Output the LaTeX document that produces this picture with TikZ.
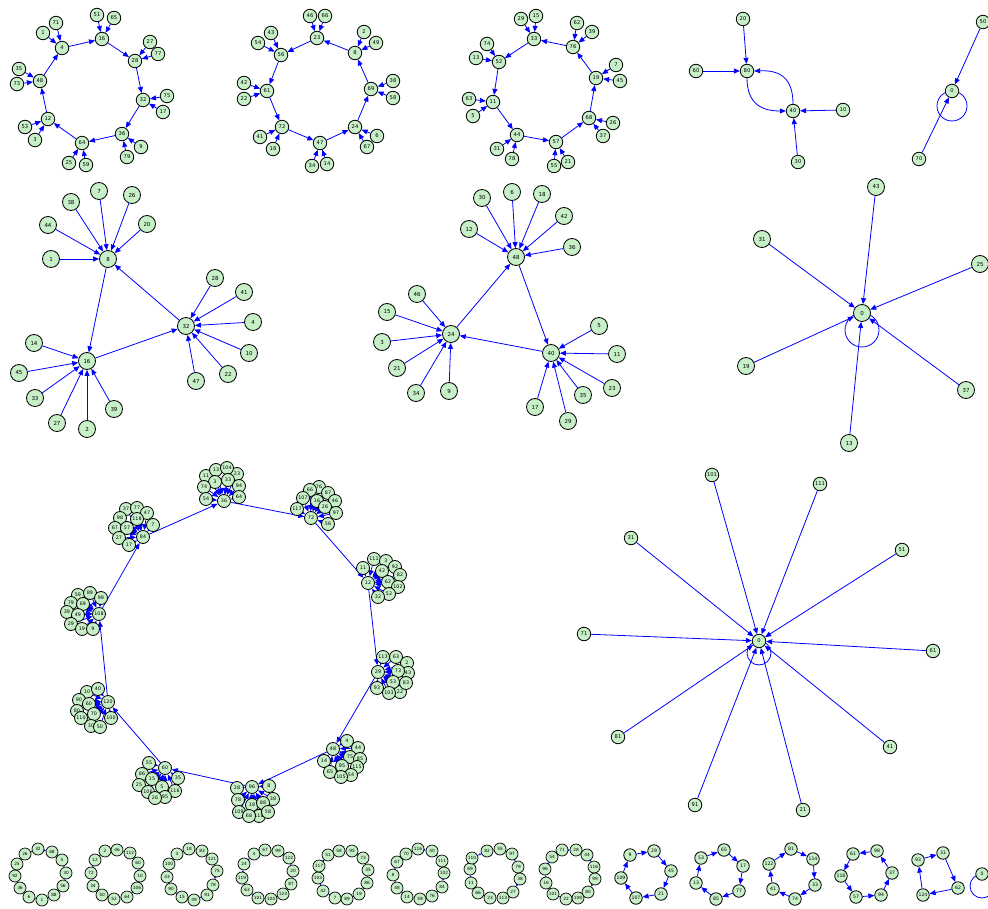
\documentclass[tikz,border=0pt]{standalone}
\usepackage{fontspec}
\setmainfont{DejaVu Sans}
\usepackage{tikz}
\usetikzlibrary{arrows.meta,positioning,backgrounds,calc}
\definecolor{nodegreen}{RGB}{200,240,200}

\begin{document}
\begin{tikzpicture}[
    x=1pt, y=-1pt,
    >={Stealth[length=6pt,width=5pt,inset=0pt]},
    vtx/.style={circle, draw, line width=0.8pt, fill=nodegreen, minimum size=13.5pt, inner sep=0pt, font=\fontsize{5.2}{6}\selectfont},
    bigvtx/.style={vtx, minimum size=17pt, font=\fontsize{5.5}{6}\selectfont},
    clvtx/.style={vtx, minimum size=13pt, font=\fontsize{4.8}{5}\selectfont},
    ringvtx/.style={vtx, minimum size=12.5pt, font=\fontsize{4.6}{5}\selectfont},
    tinyvtx/.style={vtx, minimum size=12pt, line width=0.7pt, font=\fontsize{4.3}{5}\selectfont},
    link/.style={->, blue, line width=0.8pt},
    tinylink/.style={-{Stealth[length=2pt,width=2pt,inset=0pt]}, blue, line width=0.6pt},
    loopline/.style={blue, line width=0.8pt}
]
    \useasboundingbox (0,0) rectangle (988,909);

    % first ring of eight with two feeders each
    \foreach \n/\x/\y in {4/62/48, 16/102/39, 28/135/61, 32/143/100, 36/122/134, 64/82/143, 12/48/119, 48/40/81}
        \node[vtx] (c1_\n) at (\x,\y) {\n};
    \foreach \a/\b in {4/16, 16/28, 28/32, 32/36, 36/64, 64/12, 12/48, 48/4}
        \draw[link] (c1_\a) -- (c1_\b);
    \foreach \h/\n/\x/\y in {4/1/43/33, 4/71/56/23, 16/51/97/15, 16/65/114/18, 28/27/150/42, 28/77/158/54,
            32/75/167/96, 32/17/163/112, 36/9/141/147, 36/79/127/157, 64/25/69/163, 64/59/86/165,
            12/53/25/127, 12/3/35/140, 48/35/19/69, 48/73/17/84} {
        \node[vtx] (c1_\n) at (\x,\y) {\n};
        \draw[link] (c1_\n) -- (c1_\h);
    }

    % second ring
    \foreach \n/\x/\y in {23/317/38, 8/355/53, 69/371/89, 24/355/127, 47/320/143, 72/282/127, 61/267/91, 56/281/55}
        \node[vtx] (c2_\n) at (\x,\y) {\n};
    \foreach \a/\b in {8/23, 23/56, 56/61, 61/72, 72/47, 47/24, 24/69, 69/8}
        \draw[link] (c2_\a) -- (c2_\b);
    \foreach \h/\n/\x/\y in {23/46/310/16, 23/66/325/16, 8/2/364/32, 8/49/376/43, 69/38/393/81, 69/58/393/98,
            24/6/377/136, 24/67/367/147, 47/14/327/164, 47/34/312/166, 72/41/260/137, 72/18/273/149,
            61/42/244/83, 61/22/244/99, 56/54/258/43, 56/43/271/33} {
        \node[vtx] (c2_\n) at (\x,\y) {\n};
        \draw[link] (c2_\n) -- (c2_\h);
    }

    % third ring
    \foreach \n/\x/\y in {33/534/39, 76/573/47, 19/596/78, 68/589/118, 57/556/142, 44/517/135, 11/493/102, 52/499/62}
        \node[vtx] (c3_\n) at (\x,\y) {\n};
    \foreach \a/\b in {76/33, 33/52, 52/11, 11/44, 44/57, 57/68, 68/19, 19/76}
        \draw[link] (c3_\a) -- (c3_\b);
    \foreach \h/\n/\x/\y in {33/29/521/19, 33/15/536/16, 76/62/577/23, 76/39/592/32, 19/7/616/65, 19/45/620/81,
            68/26/613/123, 68/37/603/136, 57/21/568/162, 57/55/554/166, 44/31/497/149, 44/78/512/159,
            11/63/469/99, 11/5/473/116, 52/13/476/58, 52/74/487/44} {
        \node[vtx] (c3_\n) at (\x,\y) {\n};
        \draw[link] (c3_\n) -- (c3_\h);
    }

    % pair 80 / 40
    \node[vtx] (p_80) at (747,71) {80};
    \node[vtx] (p_40) at (793,111) {40};
    \foreach \n/\x/\y in {20/743/19, 60/696/71}{
        \node[vtx] (p_\n) at (\x,\y) {\n};
        \draw[link] (p_\n) -- (p_80);
    }
    \foreach \n/\x/\y in {10/843/110, 30/798/162}{
        \node[vtx] (p_\n) at (\x,\y) {\n};
        \draw[link] (p_\n) -- (p_40);
    }
    \draw[link] (p_80.south) .. controls (747,104) and (762,111) .. (p_40.west);
    \draw[link] (p_40.north) .. controls (793,78) and (780,70) .. (p_80.east);

    % small loop top right
    \node[vtx] (t_0) at (952,91) {0};
    \node[vtx] (t_50) at (983,22) {50};
    \node[vtx] (t_70) at (919,159) {70};
    \draw[link] (t_50) -- (t_0);
    \draw[link] (t_70) -- (t_0);
    \begin{scope}[on background layer]
        \draw[loopline] (t_0.center) ++(0,15) circle[radius=15];
    \end{scope}

    % star triangle one
    \node[bigvtx] (s1_8) at (108,259) {8};
    \node[bigvtx] (s1_16) at (87,361) {16};
    \node[bigvtx] (s1_32) at (186,326) {32};
    \draw[link] (s1_8) -- (s1_16);
    \draw[link] (s1_16) -- (s1_32);
    \draw[link] (s1_32) -- (s1_8);
    \foreach \h/\n/\x/\y in {8/1/51/259, 8/44/48/225, 8/38/71/202, 8/7/99/191, 8/26/132/195, 8/20/147/224,
            16/14/34/343, 16/45/19/373, 16/33/35/398, 16/27/57/423, 16/2/87/429, 16/39/114/409,
            32/28/215/278, 32/41/244/292, 32/4/253/322, 32/10/249/353, 32/22/228/374, 32/47/196/381} {
        \node[bigvtx] (s1_\n) at (\x,\y) {\n};
        \draw[link] (s1_\n) -- (s1_\h);
    }

    % star triangle two
    \node[bigvtx] (s2_48) at (516,257) {48};
    \node[bigvtx] (s2_24) at (451,334) {24};
    \node[bigvtx] (s2_40) at (551,353) {40};
    \draw[link] (s2_48) -- (s2_40);
    \draw[link] (s2_40) -- (s2_24);
    \draw[link] (s2_24) -- (s2_48);
    \foreach \h/\n/\x/\y in {48/30/482/198, 48/6/512/192, 48/18/542/194, 48/42/564/216, 48/36/572/247, 48/12/469/229,
            24/46/417/294, 24/15/387/312, 24/3/382/342, 24/21/397/368, 24/34/416/393, 24/9/449/391,
            40/5/599/326, 40/11/617/354, 40/23/612/388, 40/35/583/395, 40/29/568/421, 40/17/535/407} {
        \node[bigvtx] (s2_\n) at (\x,\y) {\n};
        \draw[link] (s2_\n) -- (s2_\h);
    }

    % star with loop
    \node[bigvtx] (s3_0) at (862,313) {0};
    \foreach \n/\x/\y in {43/876/187, 31/762/239, 25/980/264, 19/746/366, 37/966/390, 13/849/443} {
        \node[bigvtx] (s3_\n) at (\x,\y) {\n};
        \draw[link] (s3_\n) -- (s3_0);
    }
    \begin{scope}[on background layer]
        \draw[loopline] (s3_0.center) ++(0,17) circle[radius=17];
    \end{scope}

    % big star
    \node[vtx] (s4_0) at (759,641) {0};
    \foreach \n/\x/\y in {101/712/475, 111/820/484, 31/631/538, 51/902/550, 71/584/634,
            61/933/651, 81/618/737, 41/890/747, 91/695/805, 21/803/810} {
        \node[vtx] (s4_\n) at (\x,\y) {\n};
        \draw[link] (s4_\n) -- (s4_0);
    }
    \begin{scope}[on background layer]
        \draw[loopline] (s4_0.center) ++(0,12) circle[radius=12];
    \end{scope}

    % ring of clusters
    \foreach \n/\x/\y in {11/206/476, 13/216/470, 23/237/474, 104/227/468, 3/215/482, 33/228/480,
            74/204/487, 94/239/486, 54/206/499, 36/224/501, 64/239/497}
        \node[clvtx] (qa_\n) at (\x,\y) {\n};
    \foreach \n/\x/\y in {76/319/487, 66/310/490, 87/328/493, 16/317/501, 107/303/498, 46/335/501,
            26/325/507, 117/297/509, 97/336/513, 72/311/518, 56/328/524}
        \node[clvtx] (qb_\n) at (\x,\y) {\n};
    \foreach \n/\x/\y in {111/374/559, 3/386/561, 92/395/567, 42/382/571, 82/400/575, 11/363/568,
            62/388/582, 102/398/587, 12/368/583, 52/389/594, 32/378/597}
        \node[clvtx] (qc_\n) at (\x,\y) {\n};
    \foreach \n/\x/\y in {113/383/657, 63/396/657, 2/407/663, 43/408/673, 73/398/671, 29/378/672,
            22/400/692, 53/393/682, 83/406/683, 93/377/688, 103/389/693}
        \node[clvtx] (qd_\n) at (\x,\y) {\n};
    \foreach \n/\x/\y in {4/347/741, 44/358/748, 48/333/749, 75/350/757, 85/360/759, 115/357/767,
            14/324/761, 95/342/766, 54/351/775, 65/330/772, 105/341/777}
        \node[clvtx] (qe_\n) at (\x,\y) {\n};
    \foreach \n/\x/\y in {28/237/788, 96/252/787, 8/269/786, 78/238/800, 38/273/799, 18/252/805,
            88/263/803, 109/239/812, 118/259/816, 68/249/816, 58/268/812}
        \node[clvtx] (qf_\n) at (\x,\y) {\n};
    \foreach \n/\x/\y in {55/149/763, 60/165/768, 86/142/774, 15/152/779, 35/178/778, 25/139/785,
            5/162/787, 116/175/791, 106/148/792, 95/165/797, 26/155/798}
        \node[clvtx] (qg_\n) at (\x,\y) {\n};
    \foreach \n/\x/\y in {10/87/692, 40/98/689, 90/79/700, 60/89/704, 120/108/702, 80/77/711,
            70/94/714, 110/81/718, 100/111/718, 30/91/726, 50/100/727}
        \node[clvtx] (qh_\n) at (\x,\y) {\n};
    \foreach \n/\x/\y in {59/78/595, 89/90/593, 79/71/603, 69/83/604, 99/101/598, 39/67/612,
            49/78/615, 108/99/614, 29/71/624, 19/82/629, 9/93/629}
        \node[clvtx] (qi_\n) at (\x,\y) {\n};
    \foreach \n/\x/\y in {37/126/509, 77/137/508, 47/147/513, 98/120/518, 118/137/519, 67/115/528,
            57/127/528, 7/153/525, 27/119/538, 84/143/537, 17/129/545}
        \node[clvtx] (qj_\n) at (\x,\y) {\n};

    \begin{scope}[on background layer]
        \foreach \n in {11,13,23,104,3,33,74,94,54,64} \draw[link] (qa_\n) -- (qa_36);
        \foreach \n in {76,66,87,16,107,46,26,117,97,56} \draw[link] (qb_\n) -- (qb_72);
        \foreach \n in {111,3,92,42,82,11,62,102,52,32} \draw[link] (qc_\n) -- (qc_12);
        \foreach \n in {113,63,2,43,73,22,53,83,93,103} \draw[link] (qd_\n) -- (qd_29);
        \foreach \n in {4,44,75,85,115,14,95,54,65,105} \draw[link] (qe_\n) -- (qe_48);
        \foreach \n in {28,8,78,38,18,88,109,118,68,58} \draw[link] (qf_\n) -- (qf_96);
        \foreach \n in {55,86,15,35,25,5,116,106,95,26} \draw[link] (qg_\n) -- (qg_60);
        \foreach \n in {10,40,90,60,80,70,110,100,30,50} \draw[link] (qh_\n) -- (qh_120);
        \foreach \n in {59,89,79,69,99,39,49,29,19,9} \draw[link] (qi_\n) -- (qi_108);
        \foreach \n in {37,77,47,98,118,67,57,7,27,17} \draw[link] (qj_\n) -- (qj_84);
        \draw[link] (qa_36) -- (qb_72);
        \draw[link] (qb_72) -- (qc_12);
        \draw[link] (qc_12) -- (qd_29);
        \draw[link] (qd_29) -- (qe_48);
        \draw[link] (qe_48) -- (qf_96);
        \draw[link] (qf_96) -- (qg_60);
        \draw[link] (qg_60) -- (qh_120);
        \draw[link] (qh_120) -- (qi_108);
        \draw[link] (qi_108) -- (qj_84);
        \draw[link] (qj_84) -- (qa_36);
    \end{scope}

    % bottom row, rings of twelve
    \foreach \n/\x/\y [count=\i] in {32/38/849, 68/52/852, 5/62/860, 30/66/873, 56/63/886, 88/54/895,
            1/42/900, 6/29/897, 36/20/888, 92/15/876, 25/17/864, 26/25/854}
        \node[tinyvtx] (r1_\i) at (\x,\y) {\n};
    \foreach \n/\x/\y [count=\i] in {2/105/851, 46/117/850, 112/130/853, 60/138/863, 10/140/876, 106/137/888,
            64/127/897, 52/114/899, 50/102/895, 34/93/886, 72/91/873, 12/95/860}
        \node[tinyvtx] (r2_\i) at (\x,\y) {\n};
    \foreach \n/\x/\y [count=\i] in {3/177/854, 18/189/849, 83/202/851, 121/212/859, 75/217/871, 78/213/885,
            91/207/895, 49/194/900, 15/182/897, 90/171/889, 43/167/877, 100/169/864}
        \node[tinyvtx] (r3_\i) at (\x,\y) {\n};
    \foreach \n/\x/\y [count=\i] in {4/254/854, 67/265/850, 99/278/851, 122/289/858, 20/293/871, 87/291/884,
            123/283/894, 104/271/899, 101/258/898, 63/247/890, 119/242/878, 24/244/864}
        \node[tinyvtx] (r4_\i) at (\x,\y) {\n};
    \foreach \n/\x/\y [count=\i] in {51/328/855, 58/339/851, 95/352/851, 73/363/858, 35/368/870, 86/367/883,
            19/359/894, 89/347/899, 7/335/898, 42/323/891, 103/318/878, 117/319/866}
        \node[tinyvtx] (r5_\i) at (\x,\y) {\n};
    \foreach \n/\x/\y [count=\i] in {70/406/854, 116/418/849, 40/432/851, 111/442/861, 102/444/873, 84/442/887,
            76/432/896, 59/420/899, 14/407/897, 48/397/888, 8/393/875, 67/397/862}
        \node[tinyvtx] (r6_\i) at (\x,\y) {\n};
    \foreach \n/\x/\y [count=\i] in {82/487/851, 55/500/849, 97/512/854, 79/518/867, 38/520/879, 27/513/892,
            113/503/898, 23/490/898, 66/478/893, 11/471/883, 69/470/869, 110/472/858}
        \node[tinyvtx] (r7_\i) at (\x,\y) {\n};
    \foreach \n/\x/\y [count=\i] in {71/562/850, 28/576/850, 44/587/855, 116/594/867, 99/595/879, 80/588/892,
            108/578/898, 22/566/899, 101/553/894, 16/546/883, 96/545/869, 54/552/857}
        \node[tinyvtx] (r8_\i) at (\x,\y) {\n};
    \begin{scope}[on background layer]
        \foreach \r in {1,...,8} {
            \foreach \i in {1,...,12} {
                \pgfmathtruncatemacro{\nxt}{mod(\i,12)+1}
                \draw[tinylink] (r\r_\i) -- (r\r_\nxt);
            }
        }
    \end{scope}

    % bottom row, directed rings
    \foreach \n/\x/\y [count=\i] in {9/630/855, 29/654/851, 45/671/871, 21/661/894, 107/636/898, 109/621/878}
        \node[ringvtx] (r9_\i) at (\x,\y) {\n};
    \foreach \n/\x/\y [count=\i] in {53/701/858, 65/724/850, 17/743/866, 77/739/891, 85/716/899, 13/696/883}
        \node[ringvtx] (r10_\i) at (\x,\y) {\n};
    \foreach \n/\x/\y [count=\i] in {122/769/864, 81/791/849, 114/813/859, 33/815/885, 74/795/899, 41/773/889}
        \node[ringvtx] (r11_\i) at (\x,\y) {\n};
    \foreach \n/\x/\y [count=\i] in {98/877/851, 61/853/854, 118/841/876, 57/856/897, 94/881/895, 37/892/873}
        \node[ringvtx] (r12_\i) at (\x,\y) {\n};
    \foreach \r in {9,...,12} {
        \foreach \i in {1,...,6} {
            \pgfmathtruncatemacro{\nxt}{mod(\i,6)+1}
            \draw[link] (r\r_\i) -- (r\r_\nxt);
        }
    }
    \foreach \n/\x/\y [count=\i] in {93/918/860, 31/943/853, 62/958/888, 124/923/895}
        \node[ringvtx] (r13_\i) at (\x,\y) {\n};
    \foreach \i in {1,...,4} {
        \pgfmathtruncatemacro{\nxt}{mod(\i,4)+1}
        \draw[link] (r13_\i) -- (r13_\nxt);
    }

    \node[ringvtx] (r14_0) at (982,874) {0};
    \begin{scope}[on background layer]
        \draw[loopline] (r14_0.center) ++(0,12) circle[radius=12];
    \end{scope}

\end{tikzpicture}
\end{document}
